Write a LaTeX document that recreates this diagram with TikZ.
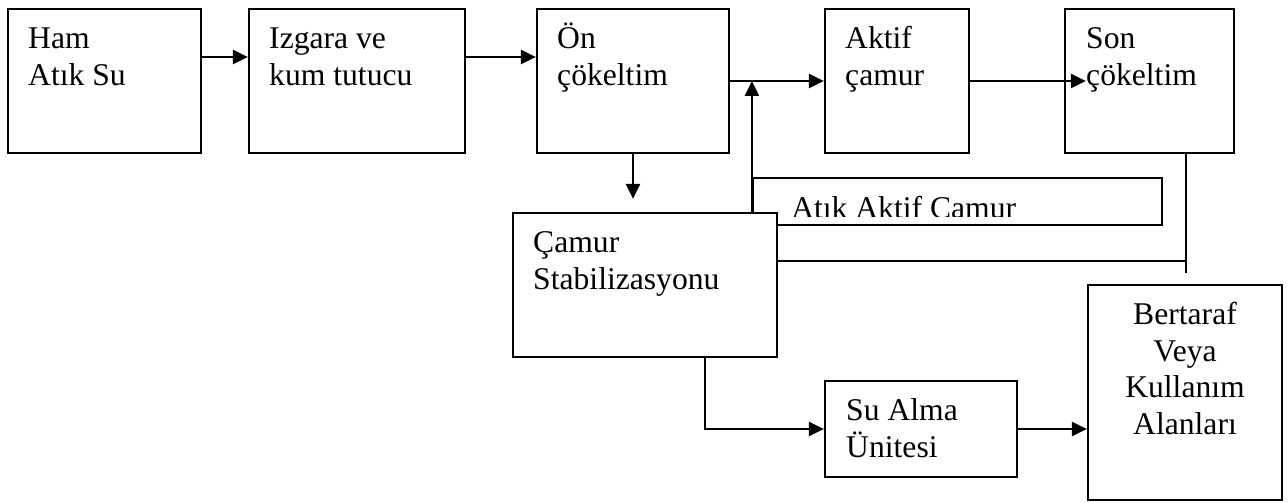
\documentclass[tikz,border=0pt]{standalone}
\usepackage{fontspec}
\setmainfont{Liberation Serif}
\usetikzlibrary{arrows.meta,calc}
\begin{document}
\begin{tikzpicture}[x=0.02cm, y=-0.02cm,
  box/.style={shape=rectangle, draw=black, line width=1.3pt, fill=white, inner sep=0pt},
  txt/.style={font=\fontsize{18}{21}\selectfont, inner sep=0pt, align=left, anchor=base west},
  ctxt/.style={font=\fontsize{18}{21}\selectfont, inner sep=0pt, align=center, anchor=base},
  arr/.style={-{Triangle[length=0.3cm,width=0.28cm]}, line width=1.3pt},
  lin/.style={line width=1.3pt}]
\useasboundingbox (0,0) rectangle (1288,503);
% main line
\node[box, minimum width=3.86cm, minimum height=2.88cm] (ham) at (104.5,81) {};
\node[box, minimum width=4.32cm, minimum height=2.88cm] (izg) at (357,81) {};
\node[box, minimum width=3.84cm, minimum height=2.88cm] (on) at (633,81) {};
\node[box, minimum width=2.88cm, minimum height=2.88cm] (akt) at (897,81) {};
\node[box, minimum width=3.38cm, minimum height=2.88cm] (son) at (1149.5,81) {};
% sludge line
\node[box, minimum width=8.18cm, minimum height=0.94cm] (atik) at (957.5,201.5) {};
\begin{scope}
\clip (atik.north west) rectangle ([yshift=0.2cm]atik.south east);
\node[txt] (atiktxt) at ([shift={(0.78cm,-0.83cm)}]atik.north west) {Atık Aktif Camur};
\end{scope}
\node[box, minimum width=5.28cm, minimum height=2.88cm] (cam) at (645,285) {};
\node[box, minimum width=3.84cm, minimum height=1.92cm] (su) at (921,429) {};
\node[box, minimum width=3.88cm, minimum height=4.3cm] (bert) at (1185,392.5) {};
\coordinate (sonend) at (1186,273);
% texts (base = last line)
\node[txt] (hamtxt) at ([shift={(0.42cm,-1.56cm)}]ham.north west) {Ham\\Atık Su};
\node[txt] (izgtxt) at ([shift={(0.42cm,-1.56cm)}]izg.north west) {Izgara ve\\kum tutucu};
\node[txt] (ontxt) at ([shift={(0.42cm,-1.56cm)}]on.north west) {Ön\\çökeltim};
\node[txt] (akttxt) at ([shift={(0.42cm,-1.56cm)}]akt.north west) {Aktif\\çamur};
\node[txt] (sontxt) at ([shift={(0.44cm,-1.56cm)}]son.north west) {Son\\çökeltim};
\node[txt] (camtxt) at ([shift={(0.42cm,-1.56cm)}]cam.north west) {Çamur\\Stabilizasyonu};
\node[txt] (sutxt) at ([shift={(0.44cm,-1.56cm)}]su.north west) {Su Alma\\Ünitesi};
\node[ctxt] (berttxt) at ([yshift=-3.02cm]bert.north) {Bertaraf\\Veya\\Kullanım\\Alanları};
% connectors
\draw[arr] ([yshift=0.48cm]ham.east) -- ([yshift=0.48cm]izg.west);
\draw[arr] ([yshift=0.48cm]izg.east) -- ([yshift=0.48cm]on.west);
\draw[arr] (on.east) -- (akt.west);
\draw[arr] (akt.east) -- ([xshift=0.44cm]son.west);
\draw[arr] (on.south) -- ($(on.south |- cam.north)+(0,-13)$);
\draw[arr] (atik.west |- cam.north) -- (atik.west |- on.east);
\draw[lin] (son.south -| sonend) -- (sonend);
\draw[lin] ([yshift=0.48cm]cam.east) -- ([yshift=0.48cm]cam.east -| sonend);
\draw[arr] ([xshift=1.2cm]cam.south) |- (su.west);
\draw[arr] (su.east) -- (su.east -| bert.west);
\end{tikzpicture}
\end{document}
